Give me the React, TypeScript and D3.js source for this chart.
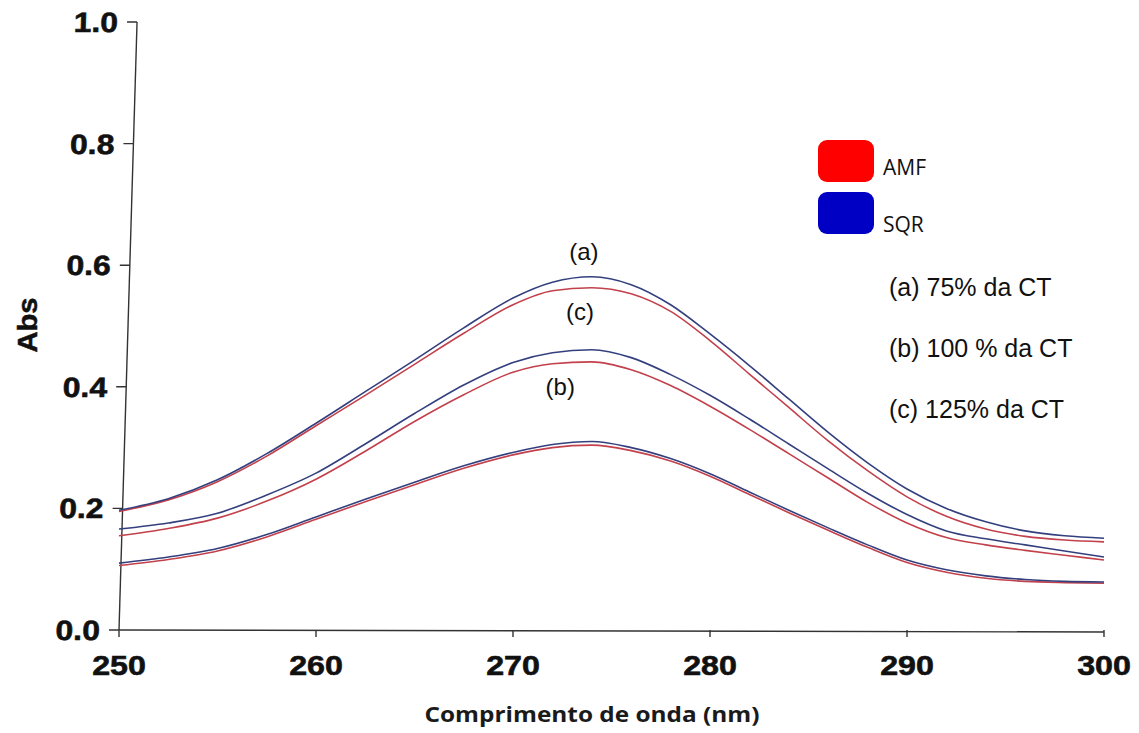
import React from 'react'
import { scaleLinear, line, curveMonotoneX } from 'd3'

// wavelengths (nm)
const wavelengths = [250, 252.5, 255, 257.5, 260, 262.5, 265, 267.5, 270, 272, 274, 276, 278, 280, 282, 284, 286, 288, 290, 292, 294, 296, 298, 300]

// upper pair
const upperSQR = [0.197, 0.216, 0.247, 0.29, 0.34, 0.392, 0.444, 0.497, 0.546, 0.572, 0.581, 0.568, 0.535, 0.487, 0.435, 0.38, 0.325, 0.275, 0.232, 0.2, 0.178, 0.163, 0.155, 0.151]
const upperAMF = [0.195, 0.214, 0.244, 0.286, 0.336, 0.386, 0.437, 0.488, 0.535, 0.558, 0.563, 0.553, 0.524, 0.476, 0.421, 0.366, 0.311, 0.262, 0.219, 0.187, 0.166, 0.154, 0.148, 0.145]
// middle pair
const middleSQR = [0.166, 0.176, 0.192, 0.222, 0.258, 0.306, 0.356, 0.403, 0.44, 0.456, 0.461, 0.448, 0.42, 0.386, 0.347, 0.306, 0.265, 0.225, 0.19, 0.163, 0.15, 0.14, 0.13, 0.12]
const middleAMF = [0.155, 0.167, 0.184, 0.212, 0.248, 0.294, 0.343, 0.387, 0.424, 0.438, 0.441, 0.428, 0.402, 0.368, 0.33, 0.29, 0.25, 0.21, 0.176, 0.152, 0.14, 0.131, 0.123, 0.115]
// lower pair
const lowerSQR = [0.11, 0.12, 0.134, 0.157, 0.186, 0.215, 0.243, 0.27, 0.292, 0.305, 0.31, 0.3, 0.282, 0.257, 0.227, 0.197, 0.168, 0.14, 0.115, 0.099, 0.089, 0.083, 0.08, 0.079]
const lowerAMF = [0.106, 0.116, 0.13, 0.153, 0.182, 0.211, 0.239, 0.266, 0.288, 0.3, 0.304, 0.295, 0.278, 0.253, 0.223, 0.193, 0.164, 0.136, 0.111, 0.095, 0.085, 0.08, 0.078, 0.077]

const xTicks = [250, 260, 270, 280, 290, 300]
const yTicks = [0, 0.2, 0.4, 0.6, 0.8, 1.0]

const legendItems = [
  { label: 'AMF', color: '#ff0000' },
  { label: 'SQR', color: '#0000c4' },
]
const notes = ['(a) 75% da CT', '(b) 100 % da CT', '(c) 125% da CT']
// curve labels: [text, wavelength, abs]
const curveLabels: [string, number, number][] = [
  ['(a)', 273.6, 0.608],
  ['(c)', 273.4, 0.51],
  ['(b)', 272.4, 0.387],
]

const width = 1139
const height = 733
const x = scaleLinear().domain([250, 300]).range([119, 1104])
const y = scaleLinear().domain([0, 1]).range([630, 22])

const sqrColor = '#34407e'
const amfColor = '#c2414c'

const App = () => {
  const path = (vals: number[]) =>
    line<number>()
      .x((_, i) => x(wavelengths[i]))
      .y(d => y(d))
      .curve(curveMonotoneX)(vals) || ''

  const series = [
    { vals: lowerAMF, color: amfColor },
    { vals: lowerSQR, color: sqrColor },
    { vals: middleAMF, color: amfColor },
    { vals: middleSQR, color: sqrColor },
    { vals: upperAMF, color: amfColor },
    { vals: upperSQR, color: sqrColor },
  ]

  const tickFont = '"Liberation Sans", Arial, sans-serif'
  // the scanned y axis leans a little to the right at the top
  const skew = `translate(119,630) skewX(-1.7) translate(-119,-630)`

  return (
    <svg width={width} height={height} style={{ position: 'absolute', left: 0, top: 0, background: '#fff' }}>
      {/* x axis */}
      <g>
        <line x1={x(250)} x2={x(300)} y1={y(0)} y2={y(0) + 2} stroke="#333" strokeWidth={1.4} />
        {xTicks.map(t => (
          <g key={t}>
            <line x1={x(t)} x2={x(t)} y1={y(0)} y2={y(0) + 7} stroke="#333" strokeWidth={1.4} />
            <text
              transform={`translate(${x(t)},675) scale(1.15,1)`}
              textAnchor="middle"
              fontFamily={tickFont}
              fontWeight="bold"
              fontSize={28}
              fill="#111"
              stroke="#111"
              strokeWidth={0.6}
            >
              {t}
            </text>
          </g>
        ))}
      </g>
      {/* y axis */}
      <g transform={skew}>
        <line x1={x(250)} x2={x(250)} y1={y(0)} y2={y(1)} stroke="#333" strokeWidth={1.4} />
        {yTicks.map(t => (
          <g key={t}>
            <line x1={x(250) - 10} x2={x(250)} y1={y(t)} y2={y(t)} stroke="#333" strokeWidth={1.4} />
            <text
              transform={`translate(${x(250) - 19},${y(t) + 10}) scale(1.14,1)`}
              textAnchor="end"
              fontFamily={tickFont}
              fontWeight="bold"
              fontSize={28}
              fill="#111"
              stroke="#111"
              strokeWidth={0.6}
            >
              {t.toFixed(1)}
            </text>
          </g>
        ))}
      </g>
      <text
        transform="translate(37,325) rotate(-90) scale(1.08,1)"
        textAnchor="middle"
        fontFamily={tickFont}
        fontWeight="bold"
        fontSize={27}
        fill="#111"
        stroke="#111"
        strokeWidth={0.5}
      >
        Abs
      </text>
      <text
        x={592}
        y={722}
        textAnchor="middle"
        fontFamily='"Open Sans", sans-serif'
        fontWeight="bold"
        fontSize={21}
        textLength={335}
        lengthAdjust="spacingAndGlyphs"
        fill="#1a1a1a"
      >
        Comprimento de onda (nm)
      </text>

      {/* curves */}
      {series.map((s, i) => (
        <path key={i} d={path(s.vals)} fill="none" stroke={s.color} strokeWidth={1.6} strokeLinejoin="round" />
      ))}

      {curveLabels.map(([t, wl, v]) => (
        <text key={t} x={x(wl)} y={y(v)} textAnchor="middle" fontFamily={tickFont} fontSize={24} fill="#111">
          {t}
        </text>
      ))}

      {/* legend */}
      {legendItems.map((d, i) => (
        <g key={d.label}>
          <rect x={818} y={140 + i * 52} width={56} height={42} rx={9} fill={d.color} />
          <text x={883} y={175 + i * 57} fontFamily='"Open Sans", sans-serif' fontSize={21} fill="#111">
            {d.label}
          </text>
        </g>
      ))}
      {notes.map((n, i) => (
        <text key={n} x={889} y={296 + i * 61} fontFamily={tickFont} fontSize={25} fill="#111">
          {n}
        </text>
      ))}
    </svg>
  )
}

export default App
